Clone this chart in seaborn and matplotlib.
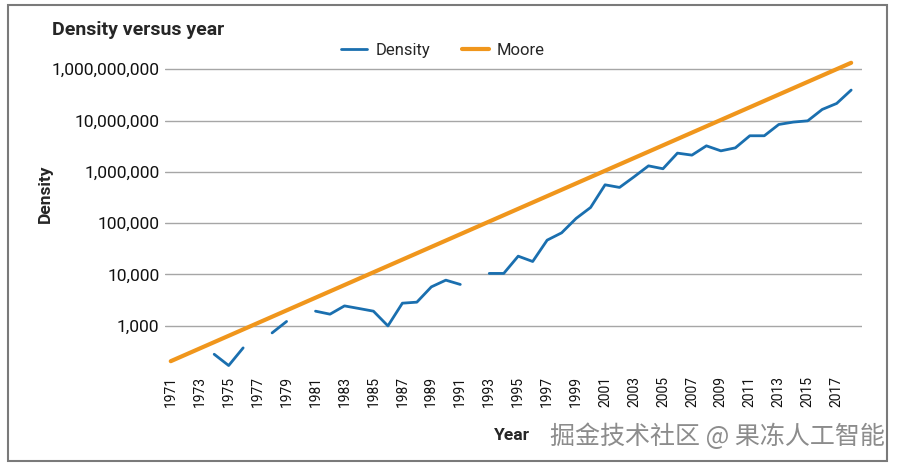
import numpy as np
import pandas as pd
import matplotlib.pyplot as plt
import seaborn as sns
from matplotlib.lines import Line2D
from matplotlib.patches import Rectangle

# Data (None = no value for that year)
years = list(range(1971, 2019))
density = [None, None, None, 277, 167, 369, None, 723, 1208, None,
           1919, 1676, 2432, 2163, 1919, 990, 2747, 2876, 5714, 7727,
           6370, None, 10450, 10450, 22700, 17860, 46600, 64700, 123600, 202000,
           559000, 497000, 800000, 1310000, 1150000, 2320000, 2120000, 3220000, 2570000, 2940000,
           5060000, 5060000, 8400000, 9350000, 9900000, 16500000, 21600000, 39400000]
moore_years = [1971, 2018]
moore_values = [203, 134000000]

y_ticks = [1e3, 1e4, 1e5, 1e6, 1e7, 1e8]
y_labels = ['1,000', '10,000', '100,000', '1,000,000', '10,000,000', '1,000,000,000']
x_ticks = list(range(1971, 2018, 2))

blue = '#1a6faf'
orange = '#f0961c'

sns.set_style('white')
plt.rcParams['font.family'] = ['Roboto', 'DejaVu Sans']

df = pd.DataFrame({'Year': years, 'Density': density})
df['seg'] = df['Density'].isna().cumsum()
df = df.dropna()

moore = pd.DataFrame({'Year': moore_years, 'Moore': moore_values})

fig = plt.figure(figsize=(9, 4.68), dpi=100)
ax = fig.add_axes([0.1833, 0.209, 0.7745, 0.667])

sns.lineplot(data=df, x='Year', y='Density', units='seg', estimator=None,
             color=blue, linewidth=2.0, ax=ax)
sns.lineplot(data=moore, x='Year', y='Moore', color=orange, linewidth=3.0, ax=ax)

ax.set_yscale('log')
ax.set_ylim(135.5, 1.66e8)
ax.set_xlim(1970.6, 2018.75)
ax.set_yticks(y_ticks)
ax.set_yticklabels(y_labels, fontsize=12.5, color='#111111')
ax.minorticks_off()
ax.set_xticks(x_ticks)
ax.set_xticklabels([str(x) for x in x_ticks], rotation=90, fontsize=10, color='#111111')
ax.tick_params(axis='both', length=0, pad=4)
ax.grid(axis='y', color='#a6a6a6', linewidth=1.0)
for s in ax.spines.values():
    s.set_visible(False)

ax.set_xlabel('')
ax.set_ylabel('')
fig.text(0.05, 0.585, 'Density', rotation=90, fontsize=12.5, fontweight='bold', va='center', ha='center')
fig.text(0.569, 0.07, 'Year', fontsize=12.5, fontweight='bold', ha='center', va='center')
fig.text(0.058, 0.935, 'Density versus year', fontsize=14, fontweight='bold', ha='left', va='center')

handles = [Line2D([], [], color=blue, linewidth=2.0),
           Line2D([], [], color=orange, linewidth=3.0)]
fig.legend(handles, ['Density', 'Moore'], loc='center', bbox_to_anchor=(0.492, 0.893),
           ncol=2, frameon=False, fontsize=12, handlelength=1.6, handletextpad=0.5,
           columnspacing=1.9)

fig.text(0.983, 0.066, '掘金技术社区 @ 果冻人工智能', fontsize=18, color='#8c8c8c',
         ha='right', va='center', family=['Noto Sans CJK SC', 'DejaVu Sans'])

fig.patches.append(Rectangle((0.009, 0.016), 0.977, 0.973, transform=fig.transFigure,
                             fill=False, edgecolor='#7a7a7a', linewidth=1.5))

fig.savefig('out.png', dpi=100)
